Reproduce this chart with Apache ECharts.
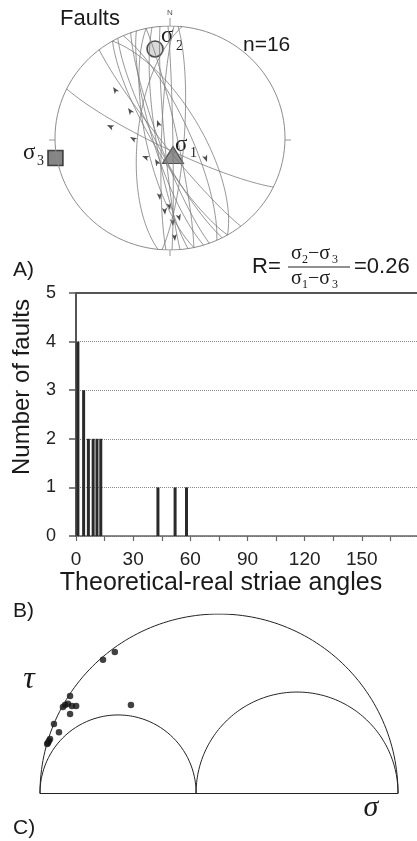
<!DOCTYPE html>
<html>
<head>
<meta charset="utf-8">
<script src="https://cdn.jsdelivr.net/npm/echarts@6/dist/echarts.min.js"></script>
<style>
html, body { margin: 0; padding: 0; background: #fff; }
#chart { width: 417px; height: 841px; }
</style>
</head>
<body>
<div id="chart"></div>
<script>
// A) stereonet, fault planes: strike (right-hand rule) and dip, degrees
var faultStrike = [116, 330, 142, 150, 153, 336, 160, 163, 348, 171, 175, 359, 182, 4, 186, 168];
var faultDip    = [82, 68, 84, 78, 80, 76, 82, 78, 85, 80, 86, 88, 84, 80, 67, 73];
// striae marks on the net: [x, y, arrow rotation] in unit-circle coords
var striae = [
  [-0.496, 0.455, 35], [-0.365, 0.268, 35], [-0.113, 0.161, 20], [-0.548, 0.116, 65],
  [-0.348, 0.009, 60], [-0.243, -0.161, 70], [-0.130, -0.188, 30], [0.322, -0.214, 200],
  [-0.087, -0.554, 185], [0.0, -0.643, 190], [0.087, -0.741, 195], [0.026, -0.786, 185],
  [0.043, -0.920, 185], [-0.043, -0.685, 185]
];
// principal stress axes on the net
var sigma1Pos = [0.026, -0.152];
var sigma2Pos = [-0.130, 0.795];
var sigma3Pos = [-0.996, -0.179];

// B) histogram of theoretical-real striae angles
var angleValues = [1, 4, 6.5, 9, 11, 13, 43, 52, 58];
var faultCounts = [4, 3, 2, 2, 2, 2, 1, 1, 1];

// C) Mohr diagram, normalised stresses
var mohrSigma = [0, 0.436, 1]; // sigma3, sigma2, sigma1
var mohrPoints = [
  [0.209, 0.394], [0.176, 0.372], [0.084, 0.271], [0.070, 0.246], [0.078, 0.249],
  [0.064, 0.240], [0.089, 0.243], [0.101, 0.243], [0.084, 0.221], [0.254, 0.246],
  [0.039, 0.193], [0.053, 0.170], [0.028, 0.151], [0.022, 0.140], [0.020, 0.137],
  [0.025, 0.145]
];

var SANS = 'Liberation Sans, Arial, sans-serif';
var SERIF = 'Liberation Serif, Times New Roman, serif';

// lower hemisphere equal-area projection of a plane
function greatCircle(strike, dip) {
  var s = strike * Math.PI / 180, d = dip * Math.PI / 180, pts = [];
  for (var k = 0; k <= 90; k++) {
    var l = Math.PI * k / 90;
    var n = Math.cos(l) * Math.cos(s) - Math.sin(l) * Math.cos(d) * Math.sin(s);
    var e = Math.cos(l) * Math.sin(s) + Math.sin(l) * Math.cos(d) * Math.cos(s);
    var p = Math.asin(Math.min(1, Math.sin(l) * Math.sin(d)));
    var r = Math.SQRT2 * Math.sin((Math.PI / 2 - p) / 2);
    var h = Math.sqrt(n * n + e * e);
    pts.push(h < 1e-9 ? [0, 0] : [r * e / h, r * n / h]);
  }
  return pts;
}

function semiCircle(a, b) {
  var c = (a + b) / 2, r = (b - a) / 2, pts = [];
  for (var k = 0; k <= 120; k++) {
    var t = Math.PI * k / 120;
    pts.push([c - r * Math.cos(t), r * Math.sin(t)]);
  }
  return pts;
}

var primitive = [];
for (var k = 0; k <= 120; k++) {
  var t = 2 * Math.PI * k / 120;
  primitive.push([Math.sin(t), Math.cos(t)]);
}

var series = [];
series.push({
  type: 'line', xAxisIndex: 0, yAxisIndex: 0, data: primitive, showSymbol: false,
  silent: true, lineStyle: { color: '#8c8c8c', width: 1 }
});
faultStrike.forEach(function (s, i) {
  series.push({
    type: 'line', xAxisIndex: 0, yAxisIndex: 0, data: greatCircle(s, faultDip[i]),
    showSymbol: false, silent: true, lineStyle: { color: '#7a7a7a', width: 0.8 }
  });
});
series.push({
  type: 'scatter', xAxisIndex: 0, yAxisIndex: 0, silent: true,
  data: striae.map(function (d) {
    return { value: [d[0], d[1]], symbolRotate: d[2] };
  }),
  symbol: 'arrow', symbolSize: [4, 7], itemStyle: { color: '#222' }
});
series.push({
  type: 'scatter', xAxisIndex: 0, yAxisIndex: 0, silent: true, data: [sigma2Pos],
  symbol: 'circle', symbolSize: 16,
  itemStyle: { color: '#cfcfcf', borderColor: '#222', borderWidth: 1.6 }
});
series.push({
  type: 'scatter', xAxisIndex: 0, yAxisIndex: 0, silent: true, data: [sigma1Pos],
  symbol: 'triangle', symbolSize: [21, 17],
  itemStyle: { color: '#777', borderColor: '#333', borderWidth: 1.2 }
});
series.push({
  type: 'scatter', xAxisIndex: 0, yAxisIndex: 0, silent: true, data: [sigma3Pos],
  symbol: 'rect', symbolSize: 15,
  itemStyle: { color: '#666', borderColor: '#222', borderWidth: 1.6 }
});

// histogram
series.push({
  type: 'bar', xAxisIndex: 1, yAxisIndex: 1, barWidth: 3, silent: true,
  data: angleValues.map(function (a, i) { return [a, faultCounts[i]]; }),
  itemStyle: { color: '#2a2a2a' }
});

// Mohr circles and points
[[mohrSigma[0], mohrSigma[2]], [mohrSigma[0], mohrSigma[1]], [mohrSigma[1], mohrSigma[2]]]
  .forEach(function (p) {
    series.push({
      type: 'line', xAxisIndex: 2, yAxisIndex: 2, data: semiCircle(p[0], p[1]),
      showSymbol: false, silent: true, lineStyle: { color: '#222', width: 1 }
    });
  });
series.push({
  type: 'scatter', xAxisIndex: 2, yAxisIndex: 2, data: mohrPoints, silent: true,
  symbolSize: 6.5, itemStyle: { color: '#111' }
});

function txt(x, y, text, size, opts) {
  var o = opts || {};
  return {
    type: 'text', x: x, y: y, rotation: o.rotation || 0, silent: true,
    style: {
      text: text, fill: o.color || '#1a1a1a', fontSize: size,
      fontFamily: o.family || SANS, fontStyle: o.italic ? 'italic' : 'normal',
      align: o.align || 'left', verticalAlign: 'middle'
    }
  };
}
function seg(x1, y1, x2, y2, color, w) {
  return {
    type: 'line', silent: true, shape: { x1: x1, y1: y1, x2: x2, y2: y2 },
    style: { stroke: color, lineWidth: w }
  };
}

var graphics = [
  txt(60, 19, 'Faults', 22),
  txt(243, 45, 'n=16', 21),
  txt(170, 13, 'N', 8, { align: 'center', color: '#555' }),
  seg(170, 18, 170, 26, '#999', 1),
  seg(285, 140, 291, 140, '#999', 1),
  seg(49, 140, 55, 140, '#999', 1),
  seg(170, 250, 170, 256, '#999', 1),
  txt(161, 36, 'σ', 23, { family: SERIF }),
  txt(176, 46, '2', 14, { family: SERIF }),
  txt(175, 145, 'σ', 23, { family: SERIF }),
  txt(190, 153, '1', 14, { family: SERIF }),
  txt(23, 153, 'σ', 23, { family: SERIF }),
  txt(37, 161, '3', 14, { family: SERIF }),
  txt(13, 270, 'A)', 21),
  txt(252, 267, 'R=', 22),
  txt(291, 254, 'σ', 20, { family: SERIF }),
  txt(302, 260, '2', 12, { family: SERIF }),
  txt(308, 254, '−σ', 20, { family: SERIF }),
  txt(332, 260, '3', 12, { family: SERIF }),
  seg(288, 267, 350, 267, '#222', 1),
  txt(291, 279, 'σ', 20, { family: SERIF }),
  txt(302, 285, '1', 12, { family: SERIF }),
  txt(308, 279, '−σ', 20, { family: SERIF }),
  txt(332, 285, '3', 12, { family: SERIF }),
  txt(354, 267, '=0.26', 22),
  txt(22, 387, 'Number of faults', 24, { align: 'center', rotation: Math.PI / 2 }),
  txt(221, 583, 'Theoretical-real striae angles', 25, { align: 'center' }),
  txt(13, 611, 'B)', 21),
  txt(29, 680, 'τ', 32, { family: SERIF, italic: true, align: 'center' }),
  txt(371, 808, 'σ', 30, { family: SERIF, italic: true, align: 'center' }),
  txt(13, 828, 'C)', 21)
];

var hidden = { show: false };
var chart = echarts.init(document.getElementById('chart'));
chart.setOption({
  animation: false,
  backgroundColor: '#fff',
  grid: [
    { left: 55, top: 26, width: 230, height: 224, containLabel: false, outerBoundsMode: 'none' },
    { left: 76, top: 293, width: 343, height: 243, containLabel: false, outerBoundsMode: 'none' },
    { left: 40, top: 614, width: 358, height: 179, containLabel: false, outerBoundsMode: 'none' }
  ],
  xAxis: [
    { gridIndex: 0, type: 'value', min: -1, max: 1, axisLine: hidden, axisTick: hidden, axisLabel: hidden, splitLine: hidden },
    {
      gridIndex: 1, type: 'value', min: 0, max: 180, interval: 15,
      axisLine: { show: true, lineStyle: { color: '#666', width: 1.5 } },
      axisTick: { show: true, length: 5, lineStyle: { color: '#666', width: 1.2 } },
      axisLabel: {
        color: '#222', fontSize: 19, fontFamily: SANS, margin: 14,
        formatter: function (v) { return (v % 30 === 0 && v < 180) ? String(v) : ''; }
      },
      splitLine: hidden
    },
    {
      gridIndex: 2, type: 'value', min: 0, max: 1,
      axisLine: { show: true, lineStyle: { color: '#222', width: 1 } },
      axisTick: hidden, axisLabel: hidden, splitLine: hidden
    },
    {
      gridIndex: 1, type: 'value', min: 0, max: 180, position: 'top',
      axisLine: { show: true, lineStyle: { color: '#555', width: 2 } },
      axisTick: hidden, axisLabel: hidden, splitLine: hidden
    }
  ],
  yAxis: [
    { gridIndex: 0, type: 'value', min: -1, max: 1, axisLine: hidden, axisTick: hidden, axisLabel: hidden, splitLine: hidden },
    {
      gridIndex: 1, type: 'value', min: 0, max: 5, interval: 1,
      axisLine: { show: true, lineStyle: { color: '#555', width: 2 } },
      axisTick: { show: true, length: 7, lineStyle: { color: '#555', width: 1.5 } },
      axisLabel: { color: '#222', fontSize: 18, fontFamily: SANS, margin: 20 },
      splitLine: { show: true, lineStyle: { color: '#888', type: 'dotted', width: 1 } }
    },
    { gridIndex: 2, type: 'value', min: 0, max: 0.5, axisLine: hidden, axisTick: hidden, axisLabel: hidden, splitLine: hidden }
  ],
  graphic: graphics,
  series: series
});
</script>
</body>
</html>
